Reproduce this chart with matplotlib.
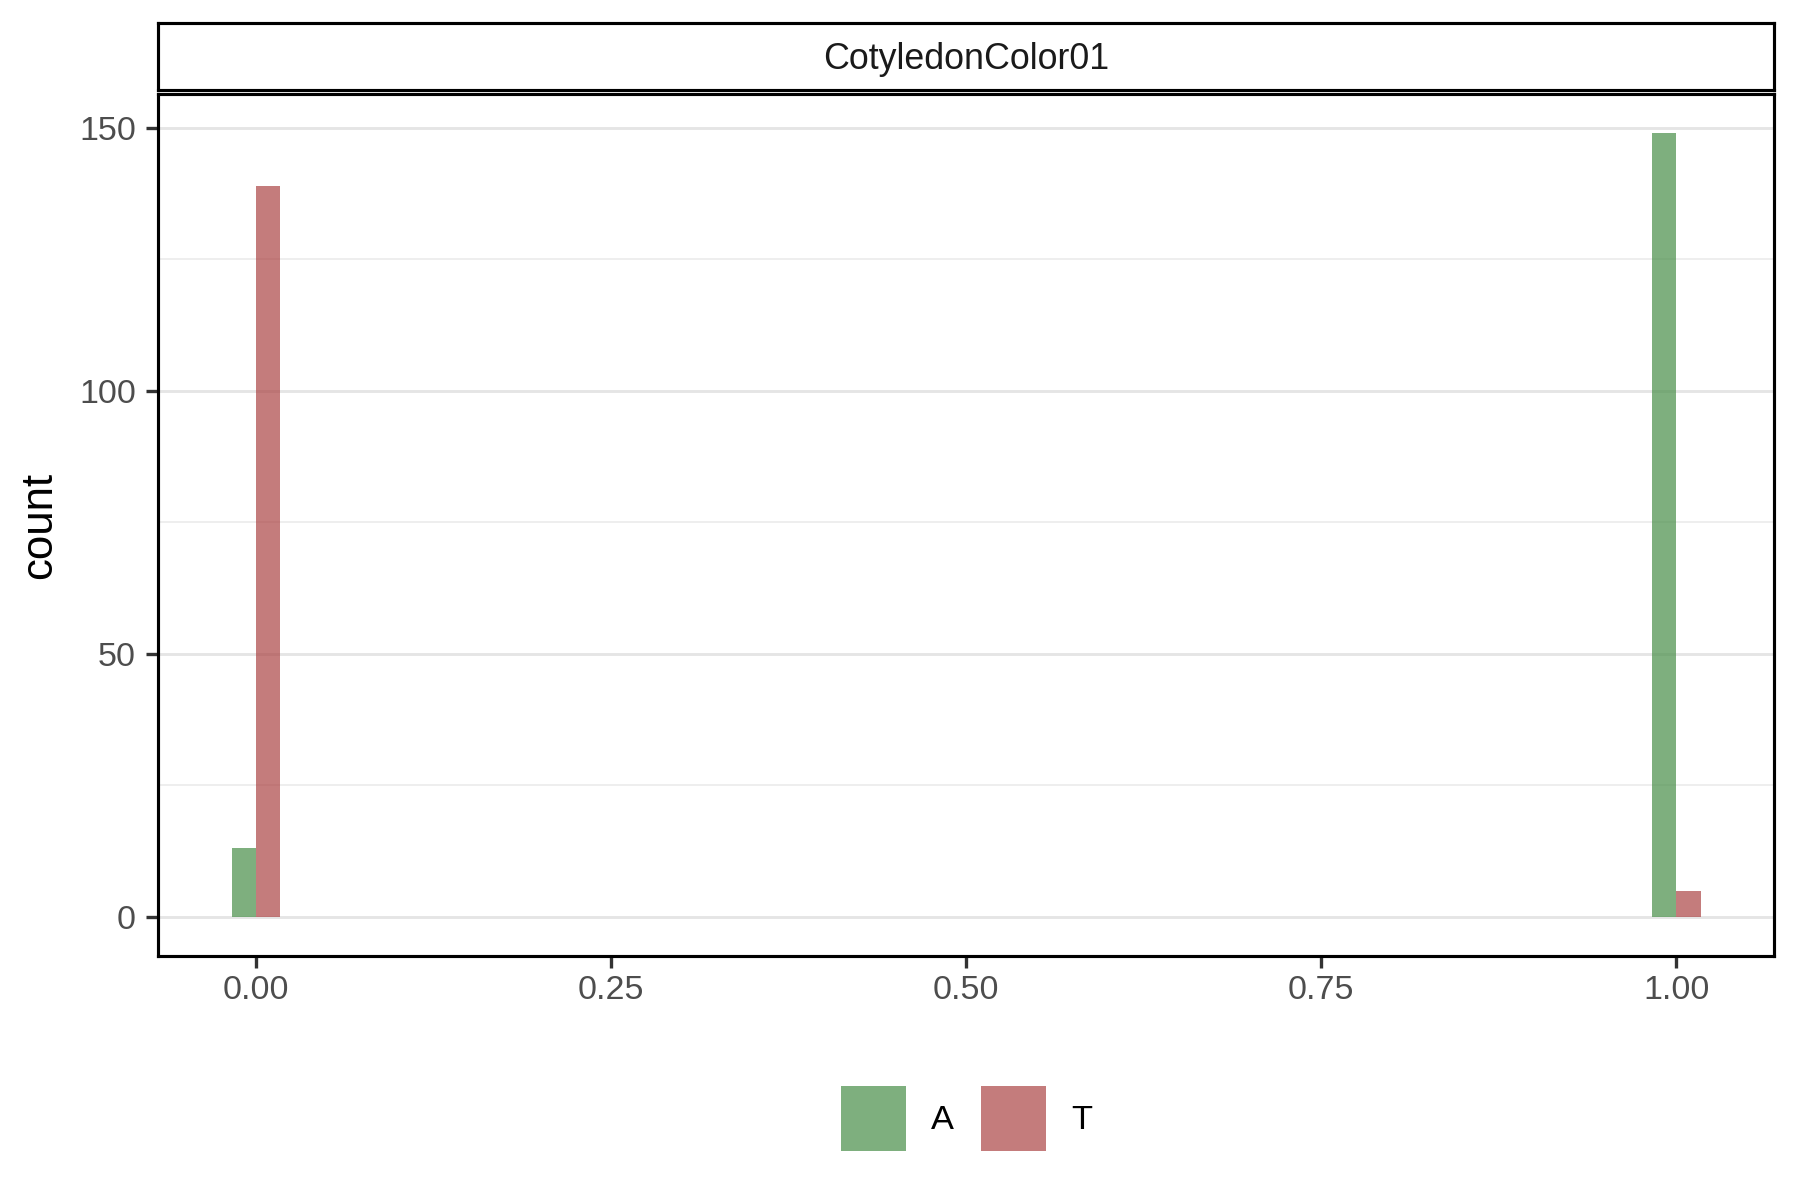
import matplotlib
matplotlib.use("Agg")
import matplotlib.pyplot as plt
from matplotlib.patches import Patch
import numpy as np

plt.rcParams['font.family'] = ['Liberation Sans', 'DejaVu Sans']

# data
bin_centers = [0.0, 1.0]
groups = ['A', 'T']
counts_A = [13, 149]
counts_T = [139, 5]
x_ticks = [0.0, 0.25, 0.5, 0.75, 1.0]
x_ticklabels = ['0.00', '0.25', '0.50', '0.75', '1.00']
y_ticks = [0, 50, 100, 150]
y_minor = [25, 75, 125]
panel_title = 'CotyledonColor01'

col_A = '#488E48'
col_T = '#AB4444'
alpha = 0.7

binw = 1 / 29  # ggplot bins=30 over [0, 1]
half = binw / 2

fig = plt.figure(figsize=(12, 8), dpi=150)
ax = fig.add_axes([0.0878, 0.2033, 0.898, 0.7184])

xs = np.array(bin_centers)
ax.bar(xs - half / 2, counts_A, width=half, color=col_A, alpha=alpha, linewidth=0, zorder=3)
ax.bar(xs + half / 2, counts_T, width=half, color=col_T, alpha=alpha, linewidth=0, zorder=3)

# limits like ggplot's 5% expansion
xlo, xhi = -half, 1 + half
pad = (xhi - xlo) * 0.05
ax.set_xlim(xlo - pad, xhi + pad)
ymax = max(max(counts_A), max(counts_T))
ax.set_ylim(-ymax * 0.05, ymax * 1.05)

ax.set_xticks(x_ticks)
ax.set_xticklabels(x_ticklabels)
ax.set_yticks(y_ticks)
ax.set_yticks(y_minor, minor=True)
ax.tick_params(axis='y', which='minor', length=0)
ax.tick_params(which='major', length=5.8, width=1.6, color='#333333',
               labelsize=16.3, labelcolor='#4D4D4D', pad=4.8)
ax.tick_params(axis='x', which='major', pad=3.5)
ax.grid(axis='y', which='major', color='#E5E5E5', linewidth=1.4, zorder=0)
ax.grid(axis='y', which='minor', color='#EBEBEB', linewidth=0.8, zorder=0)
ax.set_axisbelow(True)
for s in ax.spines.values():
    s.set_linewidth(1.5)
    s.set_color('black')

ax.set_ylabel('count', fontsize=21, labelpad=9)

# facet strip
sax = fig.add_axes([0.0878, 0.925, 0.898, 0.056])
sax.set_xticks([])
sax.set_yticks([])
for s in sax.spines.values():
    s.set_linewidth(1.5)
    s.set_color('black')
sax.text(0.5, 0.45, panel_title, ha='center', va='center', fontsize=17.2,
         color='#1A1A1A', transform=sax.transAxes)

handles = [Patch(facecolor=col_A, alpha=alpha, linewidth=0),
           Patch(facecolor=col_T, alpha=alpha, linewidth=0)]
fig.legend(handles, groups, loc='center', bbox_to_anchor=(0.537, 0.068), ncol=2,
           frameon=False, fontsize=16.5, handlelength=1.9, handleheight=2.5,
           handletextpad=0.73, columnspacing=0.78)

fig.savefig('out.png', dpi=150, facecolor='white')
